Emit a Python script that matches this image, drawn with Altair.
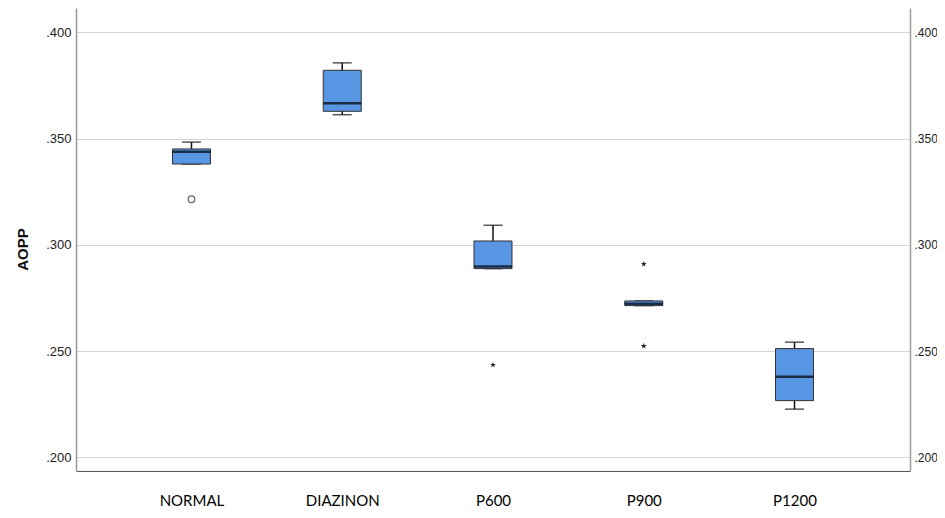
import altair as alt
import pandas as pd

categories = ["NORMAL", "DIAZINON", "P600", "P900", "P1200"]
whisker_low = [0.3380, 0.3612, 0.2888, 0.2714, 0.2227]
q1 = [0.3380, 0.3628, 0.2888, 0.2714, 0.2267]
median = [0.3438, 0.3666, 0.2898, 0.2723, 0.2379]
q3 = [0.3451, 0.3821, 0.3018, 0.2736, 0.2512]
whisker_high = [0.3483, 0.3856, 0.3092, 0.2736, 0.2542]

outlier_cat = ["NORMAL", "P600", "P900", "P900"]
outlier_val = [0.3214, 0.2435, 0.2910, 0.2524]
outlier_kind = ["circle", "star", "star", "star"]

box = pd.DataFrame({"cat": categories, "lo": whisker_low, "q1": q1,
                    "med": median, "q3": q3, "hi": whisker_high})
out = pd.DataFrame({"cat": outlier_cat, "val": outlier_val, "kind": outlier_kind})

ydom = [0.1936, 0.4114]
ticks = [0.2, 0.25, 0.3, 0.35, 0.4]
FONT_X = "Lato"
FONT_Y = "Liberation Sans"

xaxis = alt.Axis(labelFont=FONT_X, labelFontSize=15, labelColor="#000000",
                 labelAngle=0, labelPadding=22, ticks=False,
                 domainColor="#555555", domainWidth=1, grid=False, title=None)
xscale = alt.Scale(type="point", padding=0.766)

def X():
    return alt.X("cat:N", sort=categories, title=None, scale=xscale, axis=xaxis)

yscale = alt.Scale(domain=ydom, nice=False, zero=False)
label_expr = "slice(format(datum.value, '.3f'), 1)"

left_axis = alt.Axis(values=ticks, labelExpr=label_expr, labelFont=FONT_Y,
                     labelFontSize=13, labelColor="#222222", ticks=False,
                     labelPadding=5, grid=True, gridColor="#d4d4d4", gridWidth=1,
                     domainColor="#9a9a9a", domainWidth=1.5,
                     title="AOPP", titleFont=FONT_Y, titleFontSize=15,
                     titleFontWeight="bold", titleColor="#111111",
                     titleX=-54, titleY=241, titleBaseline="middle", titleAngle=270)
right_axis = alt.Axis(values=ticks, labelExpr=label_expr, labelFont=FONT_Y,
                      labelFontSize=12, labelColor="#222222", ticks=False,
                      labelPadding=4, grid=False, orient="right",
                      domainColor="#9a9a9a", domainWidth=1.5, title=None)

def Y(field, axis=None):
    return alt.Y(field, scale=yscale, axis=axis, title=None if axis is None else "AOPP")

base = alt.Chart(box)

whisk = base.mark_rule(color="#111111", strokeWidth=1.5).encode(
    x=X(), y=Y("lo:Q", left_axis), y2="hi:Q")
caps_hi = base.mark_tick(color="#111111", size=19, thickness=1.5).encode(
    x=X(), y=Y("hi:Q"))
caps_lo = base.mark_tick(color="#111111", size=19, thickness=1.5).encode(
    x=X(), y=Y("lo:Q"))
boxes = base.mark_bar(size=38, color="#5895e3", stroke="#333333", strokeWidth=1).encode(
    x=X(), y=Y("q1:Q"), y2="q3:Q")
meds = base.mark_tick(color="#000000", size=38, thickness=2.5).encode(
    x=X(), y=Y("med:Q"))

ob = alt.Chart(out)
circ = ob.transform_filter("datum.kind == 'circle'").mark_point(
    shape="circle", size=45, color="#222222", strokeWidth=1.2, filled=False).encode(
    x=X(), y=Y("val:Q"))
star_path = ("M0,-1L0.22,-0.3L0.95,-0.31L0.36,0.12L0.59,0.81L0,0.38L-0.59,0.81"
             "L-0.36,0.12L-0.95,-0.31L-0.22,-0.3Z")
stars = ob.transform_filter("datum.kind == 'star'").mark_point(
    shape=star_path, size=40, color="#222222", filled=True, opacity=1).encode(
    x=X(), y=Y("val:Q"))

right = base.mark_rule(opacity=0).encode(
    x=X(), y=Y("lo:Q", right_axis))

chart = alt.layer(whisk, caps_hi, caps_lo, boxes, meds, circ, stars, right).resolve_axis(
    y="independent").resolve_scale(y="shared").properties(
    width=834, height=463,
    background="#ffffff",
    autosize=alt.AutoSizeParams(type="none"),
    padding={"left": 68, "top": 0, "right": 27, "bottom": 39},
).configure_view(strokeWidth=0, stroke=None)

chart.save("out.html", embed_options={"renderer": "svg", "actions": False})
